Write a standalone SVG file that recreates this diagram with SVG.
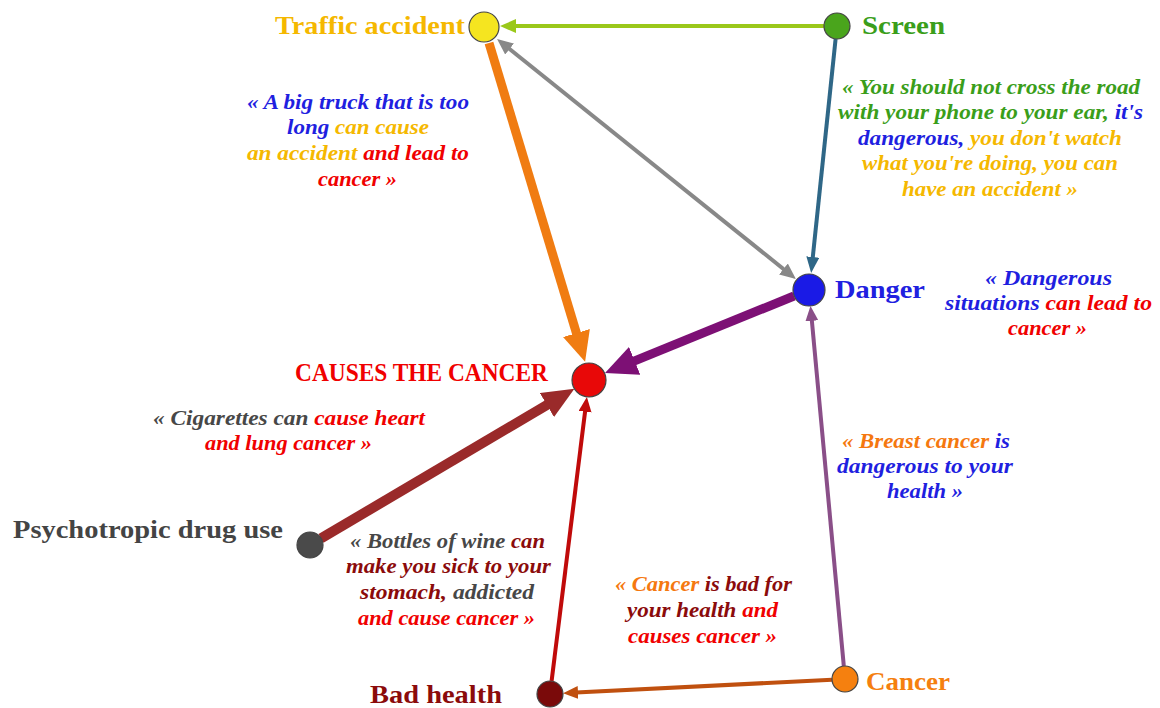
<svg xmlns="http://www.w3.org/2000/svg" width="1160" height="708" viewBox="0 0 1160 708">
<style>
.q{font-family:"Liberation Serif",serif;font-weight:bold;font-style:italic;font-size:20px}
.lbl{font-family:"Liberation Serif",serif;font-weight:bold;font-size:26px}
.node{stroke:#444;stroke-width:1.2}
.e{fill:none}
.bl{fill:#1f1fe0}.gd{fill:#f5b800}.rd{fill:#f00000}.gr{fill:#3a9e1a}.gy{fill:#474747}.dr{fill:#8b0b0b}.or{fill:#f5780f}
</style>
<defs>
<marker id="mGreen" markerUnits="userSpaceOnUse" markerWidth="16" markerHeight="14" refX="2" refY="7" orient="auto"><path d="M0,0 L16,7 L0,14 z" fill="#9ac81a"/></marker>
<marker id="mOrange" markerUnits="userSpaceOnUse" markerWidth="30" markerHeight="28" refX="2" refY="14" orient="auto"><path d="M0,0 L30,14 L0,28 z" fill="#f07c12"/></marker>
<marker id="mGrey" markerUnits="userSpaceOnUse" markerWidth="16" markerHeight="14" refX="2" refY="7" orient="auto-start-reverse"><path d="M0,0 L16,7 L0,14 z" fill="#888"/></marker>
<marker id="mSteel" markerUnits="userSpaceOnUse" markerWidth="16" markerHeight="13" refX="2" refY="6.5" orient="auto"><path d="M0,0 L16,6.5 L0,13 z" fill="#2f6787"/></marker>
<marker id="mPurple" markerUnits="userSpaceOnUse" markerWidth="32" markerHeight="30" refX="2" refY="15" orient="auto"><path d="M0,0 L32,15 L0,30 z" fill="#7d1075"/></marker>
<marker id="mBrown" markerUnits="userSpaceOnUse" markerWidth="32" markerHeight="28" refX="2" refY="14" orient="auto"><path d="M0,0 L32,14 L0,28 z" fill="#9a2a2a"/></marker>
<marker id="mRed" markerUnits="userSpaceOnUse" markerWidth="15" markerHeight="13" refX="2" refY="6.5" orient="auto"><path d="M0,0 L15,6.5 L0,13 z" fill="#c00a0a"/></marker>
<marker id="mRust" markerUnits="userSpaceOnUse" markerWidth="15" markerHeight="13" refX="2" refY="6.5" orient="auto"><path d="M0,0 L15,6.5 L0,13 z" fill="#c0500f"/></marker>
<marker id="mMauve" markerUnits="userSpaceOnUse" markerWidth="15" markerHeight="13" refX="2" refY="6.5" orient="auto"><path d="M0,0 L15,6.5 L0,13 z" fill="#8a4f88"/></marker>
</defs>
<rect width="1160" height="708" fill="#fff"/>
<g id="connectors">
<line class="e" x1="824" y1="26" x2="514" y2="26" stroke="#9ac81a" stroke-width="4" marker-end="url(#mGreen)"/>
<line class="e" x1="489" y1="43" x2="577" y2="335" stroke="#f07c12" stroke-width="9" marker-end="url(#mOrange)"/>
<line class="e" x1="508" y1="47.8" x2="785" y2="270.2" stroke="#888" stroke-width="4" marker-start="url(#mGrey)" marker-end="url(#mGrey)"/>
<line class="e" x1="835.6" y1="39" x2="812.6" y2="259" stroke="#2f6787" stroke-width="4" marker-end="url(#mSteel)"/>
<line class="e" x1="794" y1="296" x2="632.8" y2="361.6" stroke="#7d1075" stroke-width="9" marker-end="url(#mPurple)"/>
<line class="e" x1="321" y1="538.4" x2="548.6" y2="404" stroke="#9a2a2a" stroke-width="10" marker-end="url(#mBrown)"/>
<line class="e" x1="551.6" y1="681" x2="585.3" y2="409.8" stroke="#c00a0a" stroke-width="4" marker-end="url(#mRed)"/>
<line class="e" x1="832" y1="679.7" x2="576" y2="692.6" stroke="#c0500f" stroke-width="4" marker-end="url(#mRust)"/>
<line class="e" x1="843.8" y1="666" x2="811.7" y2="318.9" stroke="#8a4f88" stroke-width="4" marker-end="url(#mMauve)"/>
</g>
<g id="node-traffic">
<circle class="node" cx="484" cy="27" r="15" fill="#f5e520"/>
<text class="lbl" x="275" y="34" textLength="190" lengthAdjust="spacingAndGlyphs" fill="#f5b800">Traffic accident</text>
</g>
<g id="node-screen">
<circle class="node" cx="837" cy="26" r="13" fill="#4aa51c"/>
<text class="lbl" x="862" y="34" textLength="83" lengthAdjust="spacingAndGlyphs" fill="#3a9e1a">Screen</text>
</g>
<g id="node-danger">
<circle class="node" cx="809" cy="290" r="16" fill="#1a1ae6"/>
<text class="lbl" x="835" y="298" textLength="90" lengthAdjust="spacingAndGlyphs" fill="#2020e0">Danger</text>
</g>
<g id="node-causes">
<circle class="node" cx="589" cy="380" r="17" fill="#e80808"/>
<text class="lbl" x="295" y="381" font-size="27" textLength="253" lengthAdjust="spacingAndGlyphs" fill="#f00000">CAUSES THE CANCER</text>
</g>
<g id="node-psychotropic">
<circle class="node" cx="310" cy="545" r="13" fill="#4a4a4a"/>
<text class="lbl" x="13" y="538" font-size="27" textLength="270" lengthAdjust="spacingAndGlyphs" fill="#444">Psychotropic drug use</text>
</g>
<g id="node-badhealth">
<circle class="node" cx="550" cy="694" r="13" fill="#7a0a0a"/>
<text class="lbl" x="370" y="703" textLength="132" lengthAdjust="spacingAndGlyphs" fill="#8b0b0b">Bad health</text>
</g>
<g id="node-cancer">
<circle class="node" cx="845" cy="679" r="13" fill="#f5800f"/>
<text class="lbl" x="866" y="690" textLength="84" lengthAdjust="spacingAndGlyphs" fill="#f57f0f">Cancer</text>
</g>
<g id="quote-truck">
<text class="q" x="247" y="109" textLength="222" lengthAdjust="spacingAndGlyphs"><tspan class="bl">« A big truck that is too</tspan></text>
<text class="q" x="287" y="134" textLength="142" lengthAdjust="spacingAndGlyphs"><tspan class="bl">long </tspan><tspan class="gd">can cause</tspan></text>
<text class="q" x="247" y="160" textLength="222" lengthAdjust="spacingAndGlyphs"><tspan class="gd">an accident </tspan><tspan class="rd">and lead to</tspan></text>
<text class="q" x="318" y="186" textLength="79" lengthAdjust="spacingAndGlyphs"><tspan class="rd">cancer »</tspan></text>
</g>
<g id="quote-screen">
<text class="q" x="842" y="94" textLength="298" lengthAdjust="spacingAndGlyphs"><tspan class="gr">« You should not cross the road</tspan></text>
<text class="q" x="838" y="119" textLength="305" lengthAdjust="spacingAndGlyphs"><tspan class="gr">with your phone to your ear, </tspan><tspan class="bl">it's</tspan></text>
<text class="q" x="858" y="145" textLength="264" lengthAdjust="spacingAndGlyphs"><tspan class="bl">dangerous,</tspan><tspan class="gd"> you don't watch</tspan></text>
<text class="q" x="862" y="170" textLength="256" lengthAdjust="spacingAndGlyphs"><tspan class="gd">what you're doing, you can</tspan></text>
<text class="q" x="902" y="196" textLength="176" lengthAdjust="spacingAndGlyphs"><tspan class="gd">have an accident »</tspan></text>
</g>
<g id="quote-danger">
<text class="q" x="985" y="285" textLength="127" lengthAdjust="spacingAndGlyphs"><tspan class="bl">«  Dangerous</tspan></text>
<text class="q" x="945" y="310" textLength="207" lengthAdjust="spacingAndGlyphs"><tspan class="bl">situations </tspan><tspan class="rd">can lead to</tspan></text>
<text class="q" x="1008" y="335" textLength="79" lengthAdjust="spacingAndGlyphs"><tspan class="rd">cancer »</tspan></text>
</g>
<g id="quote-cigarettes">
<text class="q" x="153" y="425" textLength="272" lengthAdjust="spacingAndGlyphs"><tspan class="gy">« Cigarettes can </tspan><tspan class="rd">cause heart</tspan></text>
<text class="q" x="205" y="450" textLength="167" lengthAdjust="spacingAndGlyphs"><tspan class="rd">and lung cancer »</tspan></text>
</g>
<g id="quote-wine">
<text class="q" x="350" y="548" textLength="195" lengthAdjust="spacingAndGlyphs"><tspan class="gy">« Bottles of wine </tspan><tspan class="dr">can</tspan></text>
<text class="q" x="346" y="573" textLength="205" lengthAdjust="spacingAndGlyphs"><tspan class="dr">make you sick to your</tspan></text>
<text class="q" x="360" y="599" textLength="174" lengthAdjust="spacingAndGlyphs"><tspan class="dr">stomach,</tspan><tspan class="gy"> addicted</tspan></text>
<text class="q" x="358" y="625" textLength="177" lengthAdjust="spacingAndGlyphs"><tspan class="rd">and cause cancer »</tspan></text>
</g>
<g id="quote-breast">
<text class="q" x="842" y="448" textLength="168" lengthAdjust="spacingAndGlyphs"><tspan class="or">« Breast cancer </tspan><tspan class="bl">is</tspan></text>
<text class="q" x="837" y="473" textLength="176" lengthAdjust="spacingAndGlyphs"><tspan class="bl">dangerous to your</tspan></text>
<text class="q" x="887" y="498" textLength="76" lengthAdjust="spacingAndGlyphs"><tspan class="bl">health »</tspan></text>
</g>
<g id="quote-badhealth">
<text class="q" x="615" y="591" textLength="177" lengthAdjust="spacingAndGlyphs"><tspan class="or">« Cancer</tspan><tspan class="dr"> is bad for</tspan></text>
<text class="q" x="627" y="617" textLength="151" lengthAdjust="spacingAndGlyphs"><tspan class="dr">your health </tspan><tspan class="rd">and</tspan></text>
<text class="q" x="628" y="643" textLength="149" lengthAdjust="spacingAndGlyphs"><tspan class="rd">causes cancer »</tspan></text>
</g>
</svg>
